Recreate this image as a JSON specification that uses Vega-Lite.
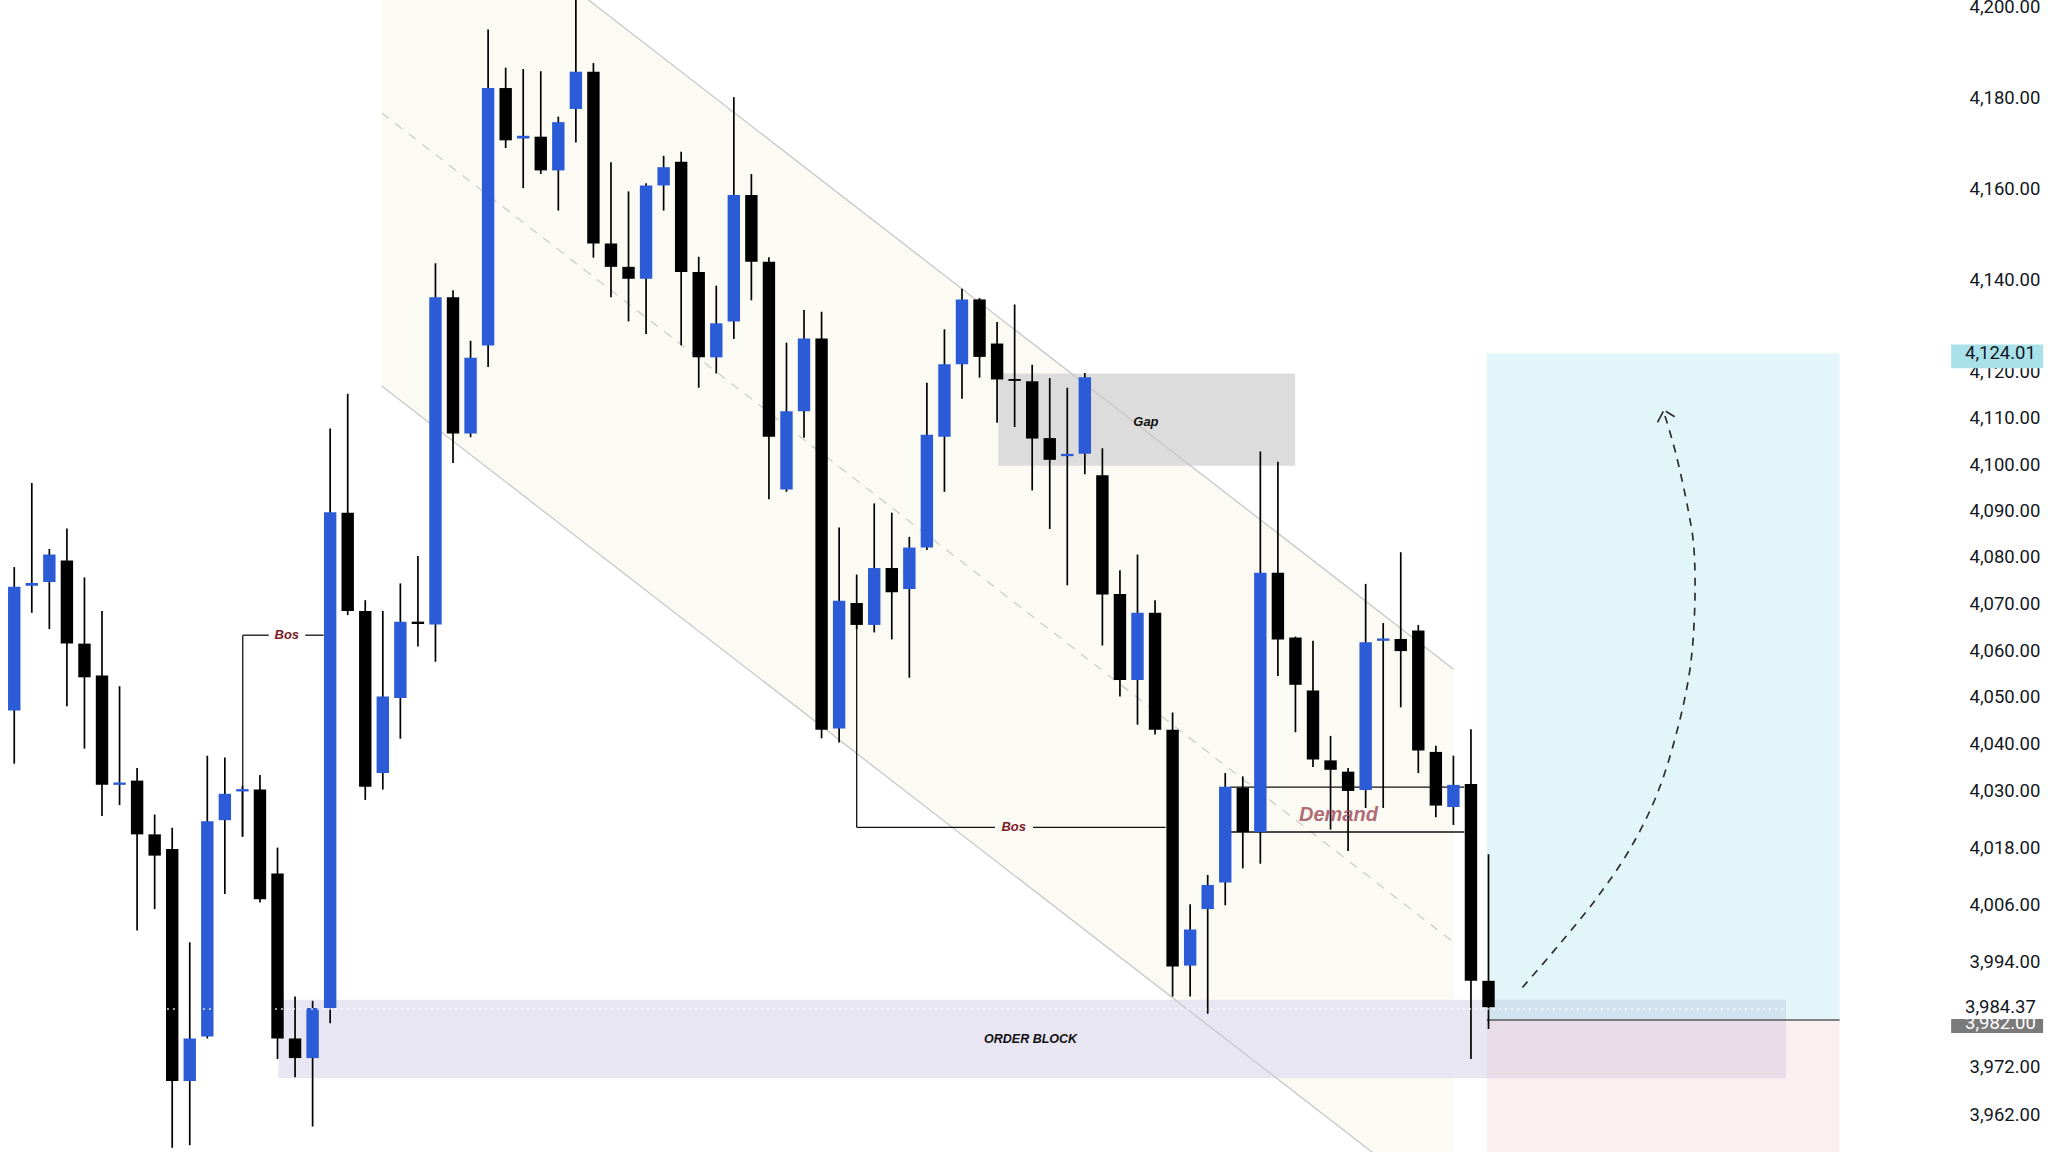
{
  "$schema": "https://vega.github.io/schema/vega-lite/v6.json",
  "width": 1960,
  "height": 1152,
  "autosize": {"type": "none"},
  "padding": {"left": 0, "top": 0, "right": 88, "bottom": 0},
  "background": "#ffffff",
  "config": {"view": {"stroke": null}},
  "datasets": {
    "candles": [
      {"i":1,"o":4047.1,"h":4077.8,"l":4035.8,"c":4073.6},
      {"i":2,"o":4073.8,"h":4095.9,"l":4068.0,"c":4074.4},
      {"i":3,"o":4074.6,"h":4081.7,"l":4064.5,"c":4080.5},
      {"i":4,"o":4079.2,"h":4086.1,"l":4048.0,"c":4061.4},
      {"i":5,"o":4061.4,"h":4075.6,"l":4039.0,"c":4054.2},
      {"i":6,"o":4054.6,"h":4068.4,"l":4024.7,"c":4031.3},
      {"i":7,"o":4031.3,"h":4052.3,"l":4027.0,"c":4031.8},
      {"i":8,"o":4032.2,"h":4034.9,"l":4000.5,"c":4020.8},
      {"i":9,"o":4020.8,"h":4025.0,"l":4005.0,"c":4016.3},
      {"i":10,"o":4017.7,"h":4022.2,"l":3955.0,"c":3968.9},
      {"i":11,"o":3968.9,"h":3998.0,"l":3955.5,"c":3977.8},
      {"i":12,"o":3978.2,"h":4037.5,"l":3977.8,"c":4023.6},
      {"i":13,"o":4023.8,"h":4037.1,"l":4008.2,"c":4029.4},
      {"i":14,"o":4029.9,"h":4031.0,"l":4020.3,"c":4030.4},
      {"i":15,"o":4030.3,"h":4033.4,"l":4006.4,"c":4007.1},
      {"i":16,"o":4012.5,"h":4018.0,"l":3973.5,"c":3977.8},
      {"i":17,"o":3977.8,"h":3986.6,"l":3969.7,"c":3973.7},
      {"i":18,"o":3973.7,"h":3985.7,"l":3959.4,"c":3984.2},
      {"i":19,"o":3984.2,"h":4107.7,"l":3981.0,"c":4089.6},
      {"i":20,"o":4089.5,"h":4115.2,"l":4067.5,"c":4068.4},
      {"i":21,"o":4068.4,"h":4070.7,"l":4028.1,"c":4030.9},
      {"i":22,"o":4033.8,"h":4068.4,"l":4030.3,"c":4050.1},
      {"i":23,"o":4049.8,"h":4074.3,"l":4041.1,"c":4066.1},
      {"i":24,"o":4066.1,"h":4080.2,"l":4060.8,"c":4065.6},
      {"i":25,"o":4065.5,"h":4143.6,"l":4057.5,"c":4136.2},
      {"i":26,"o":4136.2,"h":4137.7,"l":4100.2,"c":4106.6},
      {"i":27,"o":4106.6,"h":4126.7,"l":4105.8,"c":4123.0},
      {"i":28,"o":4125.7,"h":4194.9,"l":4121.0,"c":4182.0},
      {"i":29,"o":4182.0,"h":4186.5,"l":4168.8,"c":4170.5},
      {"i":30,"o":4170.9,"h":4186.2,"l":4160.0,"c":4171.5},
      {"i":31,"o":4171.3,"h":4185.7,"l":4163.1,"c":4163.9},
      {"i":32,"o":4163.9,"h":4175.7,"l":4155.1,"c":4174.5},
      {"i":33,"o":4177.4,"h":4203.0,"l":4170.0,"c":4185.6},
      {"i":34,"o":4185.6,"h":4187.5,"l":4144.8,"c":4147.9},
      {"i":35,"o":4147.9,"h":4165.7,"l":4136.2,"c":4142.8},
      {"i":36,"o":4142.8,"h":4159.3,"l":4130.9,"c":4140.2},
      {"i":37,"o":4140.2,"h":4161.1,"l":4128.2,"c":4160.6},
      {"i":38,"o":4160.6,"h":4167.1,"l":4155.1,"c":4164.6},
      {"i":39,"o":4165.8,"h":4168.0,"l":4125.7,"c":4141.7},
      {"i":40,"o":4141.7,"h":4145.0,"l":4116.5,"c":4123.1},
      {"i":41,"o":4123.1,"h":4138.7,"l":4119.6,"c":4130.5},
      {"i":42,"o":4130.9,"h":4180.0,"l":4127.1,"c":4158.5},
      {"i":43,"o":4158.5,"h":4163.1,"l":4135.5,"c":4143.9},
      {"i":44,"o":4143.9,"h":4144.9,"l":4092.4,"c":4105.9},
      {"i":45,"o":4094.5,"h":4126.3,"l":4094.0,"c":4111.4},
      {"i":46,"o":4111.4,"h":4133.4,"l":4105.7,"c":4127.2},
      {"i":47,"o":4127.2,"h":4133.0,"l":4041.2,"c":4043.0},
      {"i":48,"o":4043.3,"h":4086.3,"l":4040.3,"c":4070.6},
      {"i":49,"o":4070.1,"h":4076.2,"l":4064.5,"c":4065.4},
      {"i":50,"o":4065.4,"h":4091.5,"l":4063.8,"c":4077.6},
      {"i":51,"o":4077.6,"h":4089.5,"l":4062.3,"c":4072.4},
      {"i":52,"o":4073.1,"h":4084.3,"l":4054.1,"c":4082.0},
      {"i":53,"o":4082.0,"h":4117.6,"l":4081.5,"c":4106.3},
      {"i":54,"o":4105.9,"h":4129.2,"l":4094.0,"c":4121.6},
      {"i":55,"o":4121.6,"h":4138.0,"l":4114.1,"c":4135.7},
      {"i":56,"o":4135.7,"h":4136.0,"l":4118.7,"c":4123.2},
      {"i":57,"o":4126.1,"h":4130.8,"l":4108.9,"c":4118.3},
      {"i":58,"o":4118.4,"h":4134.6,"l":4108.0,"c":4118.0},
      {"i":59,"o":4117.9,"h":4121.5,"l":4094.3,"c":4105.5},
      {"i":60,"o":4105.6,"h":4118.6,"l":4086.0,"c":4100.9},
      {"i":61,"o":4101.7,"h":4116.5,"l":4073.9,"c":4102.2},
      {"i":62,"o":4102.2,"h":4119.7,"l":4097.8,"c":4118.8},
      {"i":63,"o":4097.6,"h":4103.4,"l":4061.0,"c":4071.9},
      {"i":64,"o":4072.0,"h":4077.1,"l":4050.1,"c":4053.6},
      {"i":65,"o":4053.6,"h":4080.5,"l":4044.1,"c":4068.0},
      {"i":66,"o":4068.0,"h":4070.7,"l":4042.0,"c":4043.0},
      {"i":67,"o":4043.0,"h":4046.7,"l":3986.6,"c":3992.9},
      {"i":68,"o":3993.1,"h":4006.0,"l":3986.6,"c":4000.7},
      {"i":69,"o":4005.0,"h":4012.2,"l":3983.0,"c":4010.1},
      {"i":70,"o":4010.6,"h":4033.8,"l":4005.8,"c":4030.9},
      {"i":71,"o":4030.7,"h":4033.1,"l":4013.6,"c":4021.3},
      {"i":72,"o":4021.3,"h":4102.7,"l":4014.6,"c":4076.6},
      {"i":73,"o":4076.6,"h":4100.5,"l":4054.5,"c":4062.3},
      {"i":74,"o":4062.7,"h":4062.9,"l":4042.5,"c":4052.6},
      {"i":75,"o":4051.4,"h":4062.0,"l":4035.1,"c":4036.7},
      {"i":76,"o":4036.5,"h":4041.7,"l":4021.8,"c":4034.5},
      {"i":77,"o":4034.1,"h":4034.9,"l":4017.3,"c":4030.0},
      {"i":78,"o":4030.2,"h":4074.2,"l":4026.4,"c":4061.7},
      {"i":79,"o":4062.0,"h":4065.8,"l":4026.4,"c":4062.5},
      {"i":80,"o":4062.4,"h":4081.0,"l":4047.8,"c":4059.8},
      {"i":81,"o":4064.2,"h":4065.4,"l":4033.8,"c":4038.6},
      {"i":82,"o":4038.3,"h":4039.6,"l":4024.4,"c":4026.9},
      {"i":83,"o":4026.6,"h":4037.5,"l":4022.8,"c":4031.3},
      {"i":84,"o":4031.5,"h":4043.1,"l":3973.5,"c":3989.9},
      {"i":85,"o":3989.9,"h":4016.6,"l":3979.8,"c":3984.37}
    ],
    "channelFill": [
      {"x": 21.94, "y": 4236.99, "y2": 4116.88},
      {"x": 83.01, "y": 4055.93, "y2": 3940.95}
    ],
    "channelSolid": [
      {"x": 21.94, "x2": 83.01, "y": 4236.99, "y2": 4055.93},
      {"x": 21.94, "x2": 83.01, "y": 4116.88, "y2": 3940.95}
    ],
    "channelMid": [
      {"x": 21.94, "x2": 83.01, "y": 4176.51, "y2": 3998.03}
    ],
    "orderBlock": [{"x": 16.06, "x2": 101.95, "y": 3985.9, "y2": 3969.5}],
    "stopBox": [{"x": 84.9, "x2": 105.0, "y": 3981.7, "y2": 3940.0}],
    "targetBox": [{"x": 84.9, "x2": 105.0, "y": 4124.01, "y2": 3981.7}],
    "gapBox": [{"x": 57.07, "x2": 73.98, "y": 4119.6, "y2": 4099.6}],
    "blackLines": [
      {"x": 14.02, "x2": 14.02, "y": 4063.2, "y2": 4020.3},
      {"x": 14.02, "x2": 15.5, "y": 4063.2, "y2": 4063.2},
      {"x": 17.58, "x2": 18.63, "y": 4063.2, "y2": 4063.2},
      {"x": 49.0, "x2": 49.0, "y": 4065.4, "y2": 4022.3},
      {"x": 49.0, "x2": 56.88, "y": 4022.3, "y2": 4022.3},
      {"x": 59.05, "x2": 66.6, "y": 4022.3, "y2": 4022.3},
      {"x": 70.3, "x2": 83.62, "y": 4030.8, "y2": 4030.8},
      {"x": 70.3, "x2": 83.62, "y": 4021.3, "y2": 4021.3}
    ],
    "entryLine": [{"x": 84.9, "x2": 105.0, "y": 3981.7, "y2": 3981.7}],
    "priceLine": [{"x": 0.47, "x2": 101.95, "y": 3984.0, "y2": 3984.0}],
    "arrow": [
      {"k": 1, "x": 86.93, "y": 3988.5},
      {"k": 2, "x": 88.91, "y": 3997.0},
      {"k": 3, "x": 91.18, "y": 4007.4},
      {"k": 4, "x": 93.06, "y": 4017.7},
      {"k": 5, "x": 94.58, "y": 4029.1},
      {"k": 6, "x": 95.71, "y": 4042.3},
      {"k": 7, "x": 96.47, "y": 4055.7},
      {"k": 8, "x": 96.75, "y": 4069.1},
      {"k": 9, "x": 96.69, "y": 4082.5},
      {"k": 10, "x": 96.37, "y": 4090.2},
      {"k": 11, "x": 95.71, "y": 4101.7},
      {"k": 12, "x": 95.14, "y": 4109.4},
      {"k": 13, "x": 94.96, "y": 4111.4}
    ],
    "arrowHead": [
      {"x": 94.63, "x2": 94.96, "y": 4109.0, "y2": 4111.4},
      {"x": 95.1, "x2": 95.61, "y": 4111.4, "y2": 4110.2}
    ],
    "bosText": [
      {"x": 16.53, "y": 4063.2, "t": "Bos"},
      {"x": 57.95, "y": 4022.3, "t": "Bos"}
    ],
    "gapText": [{"x": 65.48, "y": 4109.0, "t": "Gap"}],
    "demandText": [{"x": 76.45, "y": 4024.8, "t": "Demand"}],
    "obText": [{"x": 58.91, "y": 3977.7, "t": "ORDER BLOCK"}],
    "cyanLabelBox": [{"x": 111.36, "x2": 116.6, "y": 4125.9, "y2": 4120.75}],
    "greyLabelBox": [{"x": 111.36, "x2": 116.6, "y": 3981.89, "y2": 3978.95}],
    "greyLabelText": [{"x": 112.15, "y": 3981.0, "t": "3,982.00"}],
    "whiteLabelBox": [{"x": 111.36, "x2": 116.6, "y": 3986.6, "y2": 3981.89}],
    "darkLabelText": [
      {"x": 112.15, "y": 4124.01, "t": "4,124.01"},
      {"x": 112.15, "y": 3984.37, "t": "3,984.37"}
    ]
  },
  "layer": [
    {
      "data": {"name": "channelFill"},
      "mark": {"type": "area", "color": "#fcfbf3", "clip": true},
      "encoding": {
        "x": {"field": "x", "type": "quantitative", "scale": {"domain": [0.473, 111.58], "nice": false, "zero": false}, "axis": null},
        "y": {"field": "y", "type": "quantitative", "scale": {"type": "log", "domain": [3954.09, 4201.44], "nice": false},
          "axis": {"orient": "right", "values": [4200, 4180, 4160, 4140, 4120, 4110, 4100, 4090, 4080, 4070, 4060, 4050, 4040, 4030, 4018, 4006, 3994, 3972, 3962], "format": ",.2f", "labelFont": "Roboto", "labelFontSize": 18.5, "labelColor": "#131722", "domain": false, "ticks": false, "tickSize": 0, "grid": false, "title": null, "labelPadding": 9, "labelOverlap": false, "labelFlush": false, "labelBound": false}},
        "y2": {"field": "y2"}
      }
    },
    {
      "data": {"name": "orderBlock"},
      "mark": {"type": "rect", "color": "#e9e6f4", "clip": true},
      "encoding": {
        "x": {"field": "x", "type": "quantitative", "scale": {"domain": [0.473, 111.58], "nice": false, "zero": false}, "axis": null},
        "x2": {"field": "x2"},
        "y": {"field": "y", "type": "quantitative", "scale": {"type": "log", "domain": [3954.09, 4201.44], "nice": false}},
        "y2": {"field": "y2"}
      }
    },
    {
      "data": {"name": "stopBox"},
      "mark": {"type": "rect", "color": "#e8b4bc", "opacity": 0.2, "clip": true},
      "encoding": {
        "x": {"field": "x", "type": "quantitative", "scale": {"domain": [0.473, 111.58], "nice": false, "zero": false}, "axis": null},
        "x2": {"field": "x2"},
        "y": {"field": "y", "type": "quantitative", "scale": {"type": "log", "domain": [3954.09, 4201.44], "nice": false}},
        "y2": {"field": "y2"}
      }
    },
    {
      "data": {"name": "targetBox"},
      "mark": {"type": "rect", "color": "#9fdfe8", "opacity": 0.3, "clip": true},
      "encoding": {
        "x": {"field": "x", "type": "quantitative", "scale": {"domain": [0.473, 111.58], "nice": false, "zero": false}, "axis": null},
        "x2": {"field": "x2"},
        "y": {"field": "y", "type": "quantitative", "scale": {"type": "log", "domain": [3954.09, 4201.44], "nice": false}},
        "y2": {"field": "y2"}
      }
    },
    {
      "data": {"name": "gapBox"},
      "mark": {"type": "rect", "color": "#dcdcdc", "clip": true},
      "encoding": {
        "x": {"field": "x", "type": "quantitative", "scale": {"domain": [0.473, 111.58], "nice": false, "zero": false}, "axis": null},
        "x2": {"field": "x2"},
        "y": {"field": "y", "type": "quantitative", "scale": {"type": "log", "domain": [3954.09, 4201.44], "nice": false}},
        "y2": {"field": "y2"}
      }
    },
    {
      "data": {"name": "channelSolid"},
      "mark": {"type": "rule", "color": "#c8c8c8", "strokeWidth": 1.3, "clip": true},
      "encoding": {
        "x": {"field": "x", "type": "quantitative", "scale": {"domain": [0.473, 111.58], "nice": false, "zero": false}, "axis": null},
        "x2": {"field": "x2"},
        "y": {"field": "y", "type": "quantitative", "scale": {"type": "log", "domain": [3954.09, 4201.44], "nice": false}},
        "y2": {"field": "y2"}
      }
    },
    {
      "data": {"name": "channelMid"},
      "mark": {"type": "rule", "color": "#cdcdcd", "strokeWidth": 1.3, "strokeDash": [9, 8], "clip": true},
      "encoding": {
        "x": {"field": "x", "type": "quantitative", "scale": {"domain": [0.473, 111.58], "nice": false, "zero": false}, "axis": null},
        "x2": {"field": "x2"},
        "y": {"field": "y", "type": "quantitative", "scale": {"type": "log", "domain": [3954.09, 4201.44], "nice": false}},
        "y2": {"field": "y2"}
      }
    },
    {
      "data": {"name": "blackLines"},
      "mark": {"type": "rule", "color": "#111111", "strokeWidth": 1.3, "clip": true},
      "encoding": {
        "x": {"field": "x", "type": "quantitative", "scale": {"domain": [0.473, 111.58], "nice": false, "zero": false}, "axis": null},
        "x2": {"field": "x2"},
        "y": {"field": "y", "type": "quantitative", "scale": {"type": "log", "domain": [3954.09, 4201.44], "nice": false}},
        "y2": {"field": "y2"}
      }
    },
    {
      "data": {"name": "entryLine"},
      "mark": {"type": "rule", "color": "#5a5a5a", "strokeWidth": 1.5, "clip": true},
      "encoding": {
        "x": {"field": "x", "type": "quantitative", "scale": {"domain": [0.473, 111.58], "nice": false, "zero": false}, "axis": null},
        "x2": {"field": "x2"},
        "y": {"field": "y", "type": "quantitative", "scale": {"type": "log", "domain": [3954.09, 4201.44], "nice": false}},
        "y2": {"field": "y2"}
      }
    },
    {
      "data": {"name": "arrow"},
      "mark": {"type": "line", "color": "#2e2e2e", "strokeWidth": 1.7, "strokeDash": [8, 7], "interpolate": "catmull-rom", "clip": true},
      "encoding": {
        "x": {"field": "x", "type": "quantitative", "scale": {"domain": [0.473, 111.58], "nice": false, "zero": false}, "axis": null},
        "y": {"field": "y", "type": "quantitative", "scale": {"type": "log", "domain": [3954.09, 4201.44], "nice": false}},
        "order": {"field": "k", "type": "quantitative"}
      }
    },
    {
      "data": {"name": "arrowHead"},
      "mark": {"type": "rule", "color": "#2e2e2e", "strokeWidth": 1.7, "clip": true},
      "encoding": {
        "x": {"field": "x", "type": "quantitative", "scale": {"domain": [0.473, 111.58], "nice": false, "zero": false}, "axis": null},
        "x2": {"field": "x2"},
        "y": {"field": "y", "type": "quantitative", "scale": {"type": "log", "domain": [3954.09, 4201.44], "nice": false}},
        "y2": {"field": "y2"}
      }
    },
    {
      "data": {"name": "candles"},
      "mark": {"type": "rule", "color": "#000000", "strokeWidth": 1.7, "clip": true},
      "encoding": {
        "x": {"field": "i", "type": "quantitative", "scale": {"domain": [0.473, 111.58], "nice": false, "zero": false}, "axis": null},
        "y": {"field": "l", "type": "quantitative", "scale": {"type": "log", "domain": [3954.09, 4201.44], "nice": false}},
        "y2": {"field": "h"}
      }
    },
    {
      "data": {"name": "candles"},
      "mark": {"type": "bar", "size": 12.4, "clip": true},
      "encoding": {
        "x": {"field": "i", "type": "quantitative", "scale": {"domain": [0.473, 111.58], "nice": false, "zero": false}, "axis": null},
        "y": {"field": "o", "type": "quantitative", "scale": {"type": "log", "domain": [3954.09, 4201.44], "nice": false}},
        "y2": {"field": "c"},
        "color": {"condition": {"test": "datum.c > datum.o", "value": "#2b5bd6"}, "value": "#000000"}
      }
    },
    {
      "data": {"name": "priceLine"},
      "mark": {"type": "rule", "color": "#ffffff", "strokeWidth": 1.4, "strokeDash": [2, 4], "opacity": 0.85, "clip": true},
      "encoding": {
        "x": {"field": "x", "type": "quantitative", "scale": {"domain": [0.473, 111.58], "nice": false, "zero": false}, "axis": null},
        "x2": {"field": "x2"},
        "y": {"field": "y", "type": "quantitative", "scale": {"type": "log", "domain": [3954.09, 4201.44], "nice": false}},
        "y2": {"field": "y2"}
      }
    },
    {
      "data": {"name": "bosText"},
      "mark": {"type": "text", "font": "Liberation Sans", "fontSize": 13, "fontStyle": "italic", "fontWeight": "bold", "color": "#7a1c2a", "align": "center", "baseline": "middle"},
      "encoding": {
        "x": {"field": "x", "type": "quantitative", "scale": {"domain": [0.473, 111.58], "nice": false, "zero": false}, "axis": null},
        "y": {"field": "y", "type": "quantitative", "scale": {"type": "log", "domain": [3954.09, 4201.44], "nice": false}},
        "text": {"field": "t"}
      }
    },
    {
      "data": {"name": "gapText"},
      "mark": {"type": "text", "font": "Liberation Sans", "fontSize": 13, "fontStyle": "italic", "fontWeight": "bold", "color": "#111111", "align": "center", "baseline": "middle"},
      "encoding": {
        "x": {"field": "x", "type": "quantitative", "scale": {"domain": [0.473, 111.58], "nice": false, "zero": false}, "axis": null},
        "y": {"field": "y", "type": "quantitative", "scale": {"type": "log", "domain": [3954.09, 4201.44], "nice": false}},
        "text": {"field": "t"}
      }
    },
    {
      "data": {"name": "demandText"},
      "mark": {"type": "text", "font": "Liberation Sans", "fontSize": 20, "fontStyle": "italic", "fontWeight": "bold", "color": "#9c4a5a", "opacity": 0.8, "align": "center", "baseline": "middle"},
      "encoding": {
        "x": {"field": "x", "type": "quantitative", "scale": {"domain": [0.473, 111.58], "nice": false, "zero": false}, "axis": null},
        "y": {"field": "y", "type": "quantitative", "scale": {"type": "log", "domain": [3954.09, 4201.44], "nice": false}},
        "text": {"field": "t"}
      }
    },
    {
      "data": {"name": "obText"},
      "mark": {"type": "text", "font": "Liberation Sans", "fontSize": 12.5, "fontStyle": "italic", "fontWeight": "bold", "color": "#111111", "align": "center", "baseline": "middle"},
      "encoding": {
        "x": {"field": "x", "type": "quantitative", "scale": {"domain": [0.473, 111.58], "nice": false, "zero": false}, "axis": null},
        "y": {"field": "y", "type": "quantitative", "scale": {"type": "log", "domain": [3954.09, 4201.44], "nice": false}},
        "text": {"field": "t"}
      }
    },
    {
      "data": {"name": "cyanLabelBox"},
      "mark": {"type": "rect", "color": "#a9e1eb", "clip": false},
      "encoding": {
        "x": {"field": "x", "type": "quantitative", "scale": {"domain": [0.473, 111.58], "nice": false, "zero": false}, "axis": null},
        "x2": {"field": "x2"},
        "y": {"field": "y", "type": "quantitative", "scale": {"type": "log", "domain": [3954.09, 4201.44], "nice": false}},
        "y2": {"field": "y2"}
      }
    },
    {
      "data": {"name": "greyLabelBox"},
      "mark": {"type": "rect", "color": "#7a7a7a", "clip": false},
      "encoding": {
        "x": {"field": "x", "type": "quantitative", "scale": {"domain": [0.473, 111.58], "nice": false, "zero": false}, "axis": null},
        "x2": {"field": "x2"},
        "y": {"field": "y", "type": "quantitative", "scale": {"type": "log", "domain": [3954.09, 4201.44], "nice": false}},
        "y2": {"field": "y2"}
      }
    },
    {
      "data": {"name": "greyLabelText"},
      "mark": {"type": "text", "font": "Roboto", "fontSize": 18.5, "color": "#ffffff", "align": "left", "baseline": "middle", "clip": false},
      "encoding": {
        "x": {"field": "x", "type": "quantitative", "scale": {"domain": [0.473, 111.58], "nice": false, "zero": false}, "axis": null},
        "y": {"field": "y", "type": "quantitative", "scale": {"type": "log", "domain": [3954.09, 4201.44], "nice": false}},
        "text": {"field": "t"}
      }
    },
    {
      "data": {"name": "whiteLabelBox"},
      "mark": {"type": "rect", "color": "#ffffff", "clip": false},
      "encoding": {
        "x": {"field": "x", "type": "quantitative", "scale": {"domain": [0.473, 111.58], "nice": false, "zero": false}, "axis": null},
        "x2": {"field": "x2"},
        "y": {"field": "y", "type": "quantitative", "scale": {"type": "log", "domain": [3954.09, 4201.44], "nice": false}},
        "y2": {"field": "y2"}
      }
    },
    {
      "data": {"name": "darkLabelText"},
      "mark": {"type": "text", "font": "Roboto", "fontSize": 18.5, "color": "#131722", "align": "left", "baseline": "middle", "clip": false},
      "encoding": {
        "x": {"field": "x", "type": "quantitative", "scale": {"domain": [0.473, 111.58], "nice": false, "zero": false}, "axis": null},
        "y": {"field": "y", "type": "quantitative", "scale": {"type": "log", "domain": [3954.09, 4201.44], "nice": false}},
        "text": {"field": "t"}
      }
    }
  ]
}
